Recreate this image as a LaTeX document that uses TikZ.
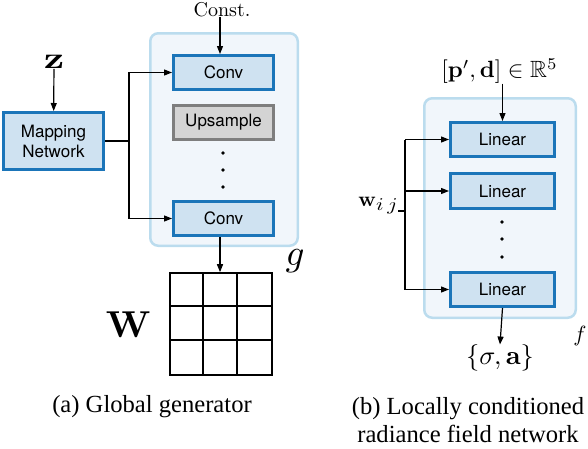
\documentclass[tikz,border=0pt]{standalone}
\usepackage{amsmath,amssymb}
\usepackage[no-math]{fontspec}
\usepackage{graphicx}
\usetikzlibrary{arrows.meta,calc}
\newfontfamily\boxfont{TeX Gyre Heros}
\newfontfamily\capfont{Liberation Serif}
\definecolor{boxfill}{HTML}{CFE2F1}
\definecolor{boxline}{HTML}{1B75B9}
\definecolor{outerfill}{HTML}{F1F6FB}
\definecolor{outerline}{HTML}{BBDCEE}
\definecolor{upfill}{HTML}{D4D4D4}
\definecolor{upline}{HTML}{7E7E7E}
\begin{document}
\begin{tikzpicture}[x=1pt,y=-1pt,
  blk/.style={draw=boxline, fill=boxfill, line width=3pt, minimum width=100pt,
    minimum height=34pt, inner sep=0pt, align=center,
    font=\boxfont\fontsize{17}{20}\selectfont},
  upbox/.style={blk, draw=upline, fill=upfill},
  outer/.style={draw=outerline, fill=outerfill, line width=2.5pt, rounded corners=8pt, inner sep=0pt},
  arr/.style={-{Triangle[length=8pt,width=6pt]}, line width=1.2pt},
  ln/.style={line width=1.2pt},
  lbl/.style={inner sep=0pt, font=\fontsize{10}{12}\selectfont},
  captext/.style={inner sep=0pt, align=center, font=\capfont\fontsize{24.6}{28}\selectfont},
  dotstyle/.style={fill=black}
]
\useasboundingbox (0,0) rectangle (588,448);

% ---------- (a) Global generator ----------
\node[outer, minimum width=147.5pt, minimum height=212.5pt] (gbox) at (224,139.5) {};
\node[lbl] (const) at (222,9.5) {\scalebox{2.0}{Const.}};
\node[blk] (conv1) at (223.5,72.5) {Conv};
\node[upbox] (up) at (223.5,122.5) {Upsample};
\node[blk] (conv2) at (223.5,218.5) {Conv};
\node[blk, minimum height=57pt, font=\boxfont\fontsize{17}{20}\selectfont] (map) at (53.5,141) {Mapping\\Network};
\node[lbl] (z) at (54,62) {\scalebox{4.0}[3.0]{$\mathbf{z}$}};
\node[lbl] (g) at (295,261.5) {\scalebox{3.7}{$g$}};
\node[lbl] (W) at (128.5,325) {\scalebox{3.75}{$\mathbf{W}$}};
\node[draw, line width=1.6pt, minimum size=102pt, inner sep=0pt] (grid) at (221,324) {};
\foreach \t in {1,2}{
  \draw[line width=1.6pt] ($(grid.north west)+(34*\t,0)$) -- ($(grid.south west)+(34*\t,0)$);
  \draw[line width=1.6pt] ($(grid.north west)+(0,34*\t)$) -- ($(grid.north east)+(0,34*\t)$);
}
\foreach \y in {153,170,187}{ \fill[dotstyle] (223,\y) circle (1.8pt); }

\coordinate (split) at (129,141);
\draw[arr] (const.south -| 220,0) -- (conv1.north -| 220,0);
\draw[arr] (z) -- (map);
\draw[ln] (map.east) -- (split);
\draw[arr] (split) |- (conv1.west);
\draw[arr] (split) |- (conv2.west);
\draw[arr] (conv2.south -| 220,0) -- (grid.north -| 220,0);

\node[captext] (capa) at (152,407) {(a) Global generator};

% ---------- (b) Locally conditioned radiance field network ----------
\node[outer, minimum width=151.5pt, minimum height=219.5pt] (fbox) at (500,208) {};
\node[lbl] (inp) at (499.5,71) {\scalebox{2.35}{$[\mathbf{p}',\mathbf{d}]\in\mathbb{R}^5$}};
\node[blk, minimum width=104pt] (lin1) at (502.5,139.5) {Linear};
\node[blk, minimum width=104pt, minimum height=35pt] (lin2) at (502.5,191) {Linear};
\node[blk, minimum width=104pt] (lin3) at (502.5,289.5) {Linear};
\foreach \y in {222,239,257}{ \fill[dotstyle] (502,\y) circle (1.8pt); }
\node[lbl] (f) at (580,336) {\scalebox{2.2}{$f$}};
\node[lbl, anchor=east] (w) at (398,206) {\scalebox{2.1}{$\mathbf{w}$}\raisebox{-4pt}{\scalebox{2.2}[1.8]{$i\,j$}}};
\node[lbl] (out) at (500,358) {\scalebox{2.65}{$\{\sigma,\mathbf{a}\}$}};

\coordinate (wsplit) at (405,211);
\draw[ln] (w.east |- wsplit) -- (wsplit);
\draw[ln] (wsplit) -- (wsplit |- lin1.west);
\draw[ln] (wsplit) -- (wsplit |- lin3.west);
\draw[arr] (wsplit |- lin1.west) -- (lin1.west);
\draw[arr] (wsplit |- lin2.west) -- (lin2.west);
\draw[arr] (wsplit |- lin3.west) -- (lin3.west);
\draw[arr] (inp.south -| lin1.north) -- (lin1.north);
\draw[arr] (lin3.south) -- (out.north);

\node[captext] (capb) at (468,420) {(b) Locally conditioned\\radiance field network};
\end{tikzpicture}
\end{document}
